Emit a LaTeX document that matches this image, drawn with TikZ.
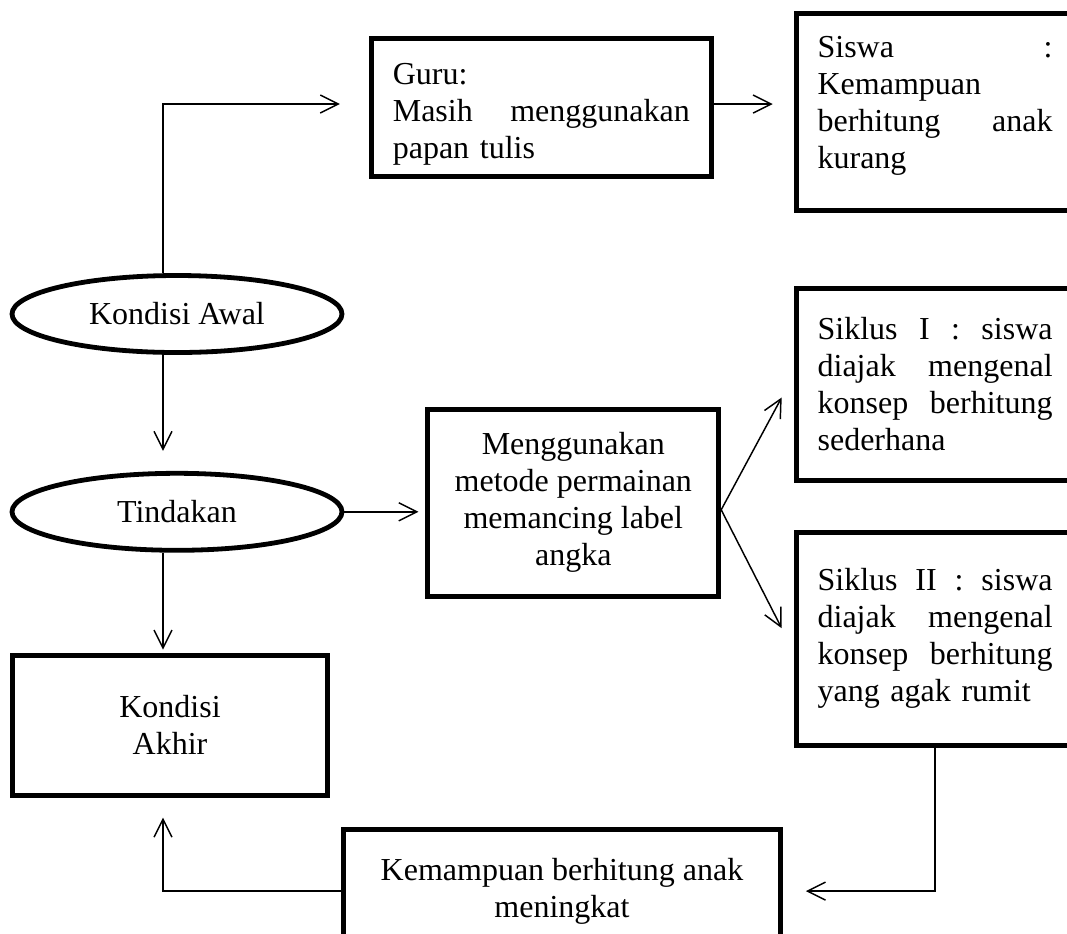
\documentclass[tikz,border=0pt]{standalone}
\usepackage{fontspec}
\setmainfont{Liberation Serif}
\usetikzlibrary{arrows.meta,positioning,shapes.geometric}

\begin{document}
\begin{tikzpicture}[
  node distance=60pt and 60pt,
  font=\fontsize{24pt}{27.75pt}\selectfont,
  oval/.style={draw, ellipse, line width=3.6pt, minimum width=247.5pt,
               minimum height=57.75pt, inner sep=0pt},
  box/.style={draw, line width=3.6pt, align=center, inner sep=0pt},
  note/.style={draw, line width=3.6pt, align=left, inner sep=0pt,
               text width=176.25pt, minimum width=208.5pt},
  arrow/.style={-{Straight Barb[length=13.5pt, width=13.5pt]}, line width=1.1pt}
]
\useasboundingbox (0,0) rectangle (800.25pt,-699.75pt);
\clip (0,0) rectangle (800.25pt,-699.75pt);

\node[oval] (awal) at (132.75pt,-235.5pt) {Kondisi Awal};
\node[oval, below=87pt of awal] (tindakan) {Tindakan};
\node[box, minimum width=236.25pt, minimum height=105pt,
      below=75pt of tindakan, xshift=-5.25pt] (akhir) {Kondisi\\Akhir};
\node[box, minimum width=218.25pt, minimum height=140.25pt,
      right=60.75pt of tindakan, yshift=6.75pt] (metode)
  {Menggunakan\\metode permainan\\memancing label\\angka};
\node[draw, line width=3.6pt, align=left, inner sep=0pt, text width=222.75pt,
      minimum width=255pt, minimum height=103.5pt,
      above=171pt of metode, xshift=-24pt] (guru)
  {\rule{0pt}{26pt}Guru:\\Masih\hfill menggunakan\\papan tulis};
\node[note, minimum height=147.75pt, right=60pt of guru, yshift=-3.5pt] (siswa)
  {Siswa\hfill :\\Kemampuan\\berhitung\hfill anak\\kurang\rule[-14pt]{0pt}{0pt}};
\node[note, minimum height=144pt, below=54.75pt of siswa] (siklus1)
  {Siklus\hfill I\hfill :\hfill siswa\\diajak\hfill mengenal\\konsep\hfill berhitung\\sederhana};
\node[note, minimum height=159.75pt, below=35.25pt of siklus1] (siklus2)
  {Siklus\hfill II\hfill :\hfill siswa\\diajak\hfill mengenal\\konsep\hfill berhitung\\yang agak rumit};
\node[box, minimum width=327.75pt, minimum height=93pt,
      below=171pt of metode, xshift=-8.5pt] (hasil)
  {Kemampuan berhitung anak\\meningkat};

\draw[arrow, shorten >=21.75pt] ([xshift=-10.5pt]awal.north) |- ([yshift=2.6pt]guru.west);
\draw[arrow, shorten >=15.75pt] ([yshift=2.6pt]guru.east) -- ([yshift=2.6pt]guru.east -| siswa.west);
\draw[arrow, shorten >=15pt] ([xshift=-10.5pt]awal.south) -- ([xshift=-10.5pt]tindakan.north);
\draw[arrow, shorten >=5.25pt] (tindakan.east) -- (tindakan.east -| metode.west);
\draw[arrow] ([yshift=-5.25pt]metode.east) -- ([xshift=-9pt,yshift=-9.75pt]siklus1.west);
\draw[arrow] ([yshift=-5.25pt]metode.east) -- ([xshift=-9pt,yshift=7.9pt]siklus2.west);
\draw[arrow, shorten >=2.25pt] ([xshift=-10.5pt]tindakan.south) -- ([xshift=-10.5pt]tindakan.south |- akhir.north);
\draw[arrow, shorten >=17.25pt] (siklus2.south) |- (hasil.east);
\draw[arrow, shorten >=15pt] (hasil.west) -| ([xshift=-5.25pt]akhir.south);
\end{tikzpicture}
\end{document}
